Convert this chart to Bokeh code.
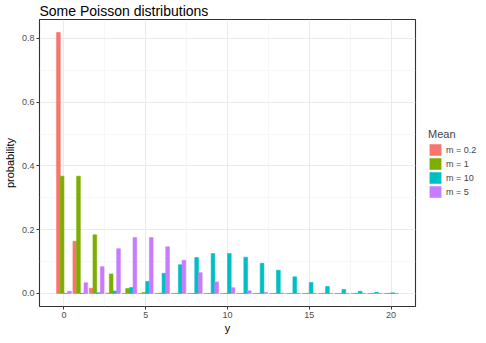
from bokeh.plotting import figure
from bokeh.models import ColumnDataSource, Range1d, FixedTicker, Legend, LegendItem
from bokeh.transform import dodge
from bokeh.embed import file_html
from bokeh.resources import INLINE

y_vals = list(range(21))
m_02 = [0.8187, 0.1637, 0.0164, 0.0011, 0.0001, 0, 0, 0, 0, 0, 0, 0, 0, 0, 0, 0, 0, 0, 0, 0, 0]
m_1 = [0.3679, 0.3679, 0.1839, 0.0613, 0.0153, 0.0031, 0.0005, 0.0001, 0, 0, 0, 0, 0, 0, 0, 0, 0, 0, 0, 0, 0]
m_10 = [0.0000, 0.0005, 0.0023, 0.0076, 0.0189, 0.0378, 0.0631, 0.0901, 0.1126, 0.1251, 0.1251,
        0.1137, 0.0948, 0.0729, 0.0521, 0.0347, 0.0217, 0.0128, 0.0071, 0.0037, 0.0019]
m_5 = [0.0067, 0.0337, 0.0842, 0.1404, 0.1755, 0.1755, 0.1462, 0.1044, 0.0653, 0.0363, 0.0181,
       0.0082, 0.0034, 0.0013, 0.0005, 0.0002, 0, 0, 0, 0, 0]
labels = ["m = 0.2", "m = 1", "m = 10", "m = 5"]
colors = ["#F8766D", "#7CAE00", "#00BFC4", "#C77CFF"]
x_ticks = [0, 5, 10, 15, 20]
y_ticks = [0.0, 0.2, 0.4, 0.6, 0.8]

src = ColumnDataSource(dict(y=y_vals, a=m_02, b=m_1, c=m_10, d=m_5))

FONT = "Liberation Sans"
p = figure(frame_width=376, frame_height=287, output_backend="svg", toolbar_location=None,
           x_range=Range1d(-1.495, 21.495), y_range=Range1d(-0.0409, 0.8596),
           title="Some Poisson distributions", min_border_left=2, min_border_right=2,
           min_border_top=2, min_border_bottom=0)
p.background_fill_color = "white"
p.border_fill_color = "white"
p.outline_line_color = "#333333"
p.outline_line_width = 1.1

p.title.text_font = FONT
p.title.text_font_size = "14px"
p.title.text_font_style = "normal"
p.title.text_color = "black"
p.title.offset = 0
p.title.standoff = 1

bw = 0.225
offs = [-0.3375, -0.1125, 0.1125, 0.3375]
items = []
for col, off, c, lab in zip(["a", "b", "c", "d"], offs, colors, labels):
    r = p.vbar(x=dodge("y", off), top=col, bottom=0, width=bw, source=src,
               fill_color=c, line_color=c, line_width=0.6)
    items.append(LegendItem(label=lab, renderers=[r]))

xt = FixedTicker(ticks=x_ticks, minor_ticks=[2.5, 7.5, 12.5, 17.5])
yt = FixedTicker(ticks=y_ticks, minor_ticks=[0.1, 0.3, 0.5, 0.7])
p.xaxis.ticker = xt
p.yaxis.ticker = yt
p.xgrid.ticker = xt
p.ygrid.ticker = yt
for g in (p.xgrid, p.ygrid):
    g.grid_line_color = "#EBEBEB"
    g.grid_line_width = 1.1
    g.minor_grid_line_color = "#F2F2F2"
    g.minor_grid_line_width = 0.6

for ax in (p.xaxis, p.yaxis):
    ax.axis_line_color = None
    ax.major_tick_line_color = "#333333"
    ax.major_tick_out = 3
    ax.major_tick_in = 0
    ax.minor_tick_out = 0
    ax.minor_tick_in = 0
    ax.major_label_text_font = FONT
    ax.major_label_text_font_size = "9px"
    ax.major_label_text_color = "#4D4D4D"
    ax.major_label_standoff = 2
    ax.axis_label_text_font = FONT
    ax.axis_label_text_font_size = "11px"
    ax.axis_label_text_font_style = "normal"
    ax.axis_label_text_color = "black"
    ax.axis_label_standoff = 3
p.xaxis.axis_label_standoff = 1
p.xaxis.axis_label = "y"
p.yaxis.axis_label = "probability"
p.xaxis.major_label_overrides = {0: "0", 5: "5", 10: "10", 15: "15", 20: "20"}
p.yaxis.major_label_overrides = {0: "0.0", 0.2: "0.2", 0.4: "0.4", 0.6: "0.6", 0.8: "0.8"}

leg = Legend(items=items, title="Mean", location="center_left")
leg.title_text_font = FONT
leg.title_text_font_size = "11px"
leg.title_text_font_style = "normal"
leg.title_standoff = 3
leg.label_text_font = FONT
leg.label_text_font_size = "9px"
leg.label_standoff = 4
leg.glyph_width = 14
leg.glyph_height = 14
leg.label_height = 14
leg.spacing = 0
leg.padding = 2
leg.margin = 13
leg.border_line_color = None
leg.background_fill_alpha = 0
p.add_layout(leg, "right")

open("out.html", "w").write(file_html(p, INLINE))
